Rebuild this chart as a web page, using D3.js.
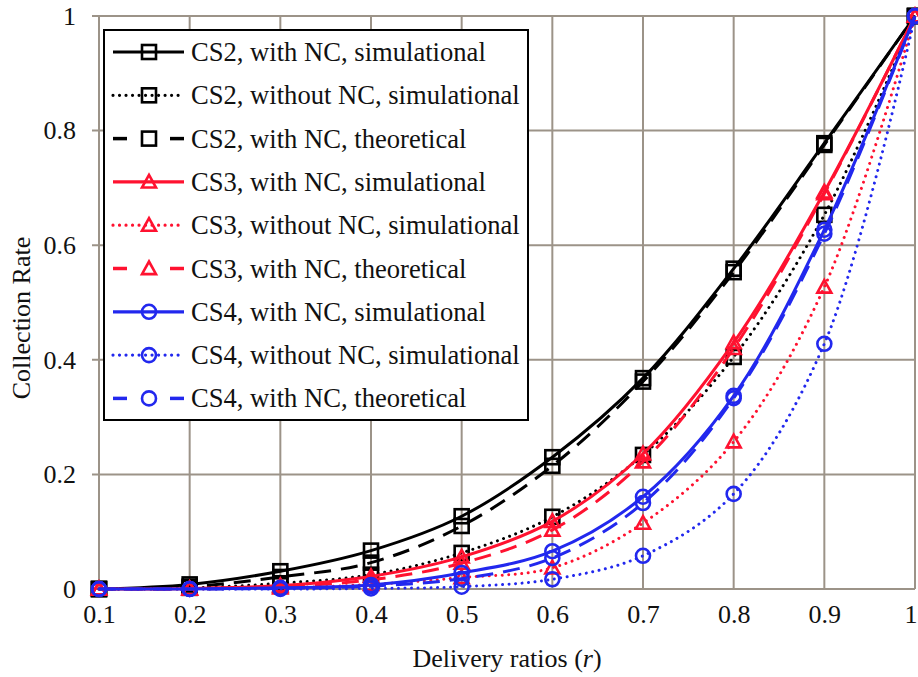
<!DOCTYPE html>
<html><head><meta charset="utf-8">
<script src="https://cdn.jsdelivr.net/npm/d3@7/dist/d3.min.js"></script>
<style>body{margin:0;background:#fff;} svg{display:block;}</style>
</head><body><svg id="c" width="918" height="677"></svg>
<script>
const xValues = [0.1,0.2,0.3,0.4,0.5,0.6,0.7,0.8,0.9,1.0];
const xTickLabels = ["0.1","0.2","0.3","0.4","0.5","0.6","0.7","0.8","0.9","1"];
const yTickValues = [0,0.2,0.4,0.6,0.8,1];
const yTickLabels = ["0","0.2","0.4","0.6","0.8","1"];
const seriesNames = ["CS2, with NC, simulational","CS2, without NC, simulational","CS2, with NC, theoretical",
  "CS3, with NC, simulational","CS3, without NC, simulational","CS3, with NC, theoretical",
  "CS4, with NC, simulational","CS4, without NC, simulational","CS4, with NC, theoretical"];
const cs2NcSim   = [0,0.008,0.031,0.067,0.127,0.230,0.368,0.559,0.778,1];
const cs2NoNcSim = [0,0.002,0.010,0.025,0.063,0.126,0.234,0.405,0.653,1];
const cs2NcTheo  = [0,0.004,0.021,0.046,0.110,0.215,0.362,0.553,0.775,1];
const cs3NcSim   = [0,0.001,0.006,0.022,0.056,0.118,0.236,0.430,0.693,1];
const cs3NoNcSim = [0,0.000,0.002,0.008,0.020,0.037,0.115,0.257,0.527,1];
const cs3NcTheo  = [0,0.000,0.004,0.016,0.045,0.103,0.222,0.420,0.690,1];
const cs4NcSim   = [0,0.000,0.002,0.007,0.028,0.066,0.161,0.337,0.627,1];
const cs4NoNcSim = [0,0.000,0.000,0.001,0.004,0.017,0.058,0.166,0.428,1];
const cs4NcTheo  = [0,0.000,0.001,0.005,0.018,0.054,0.150,0.333,0.620,1];
const seriesValues = [cs2NcSim,cs2NoNcSim,cs2NcTheo,cs3NcSim,cs3NoNcSim,cs3NcTheo,cs4NcSim,cs4NoNcSim,cs4NcTheo];

const colors = {k:"#000000", r:"#ff1230", b:"#2228ee"};
const styleOf = i => ({
  color: [colors.k,colors.r,colors.b][Math.floor(i/3)],
  marker: ["square","triangle","circle"][Math.floor(i/3)],
  dash: ["solid","dotted","dashed"][i%3]
});

const FONT = '"Liberation Serif"';
const svg = d3.select("#c");
const L=99, R=915, T=16, B=589;
const x = d3.scaleLinear().domain([0.1,1]).range([L,R]);
const y = d3.scaleLinear().domain([0,1]).range([B,T]);
const grid = "#9c9388";

// grid
const g = svg.append("g");
g.selectAll(".vg").data(xValues).join("line")
  .attr("x1",d=>x(d)).attr("x2",d=>x(d)).attr("y1",T).attr("y2",B)
  .attr("stroke",grid).attr("stroke-width",2);
g.selectAll(".hg").data(yTickValues).join("line")
  .attr("x1",L-7).attr("x2",R).attr("y1",d=>y(d)).attr("y2",d=>y(d))
  .attr("stroke",grid).attr("stroke-width",2);

// axes labels via d3 axes
const xAxis = d3.axisBottom(x).tickValues(xValues).tickFormat((d,i)=>xTickLabels[i]).tickSize(0).tickPadding(16);
const yAxis = d3.axisLeft(y).tickValues(yTickValues).tickFormat((d,i)=>yTickLabels[i]).tickSize(0).tickPadding(23);
const gx = svg.append("g").attr("transform",`translate(0,${B})`).call(xAxis);
const gy = svg.append("g").attr("transform",`translate(${L},0)`).call(yAxis);
[gx,gy].forEach(a=>{a.select(".domain").remove(); a.selectAll("text").style("font-family",FONT).style("font-size","26px").attr("fill","#111");});
// keep last x label inside the window
gx.selectAll(".tick").filter((d,i)=>i===xValues.length-1).select("text").attr("text-anchor","end").attr("dx",2);

svg.append("text").attr("x",507).attr("y",667).attr("text-anchor","middle").style("font-size","26px").style("font-family",FONT).attr("fill","#111")
  .html('Delivery ratios (<tspan font-style="italic">r</tspan>)');
svg.append("text").attr("transform","translate(30,318) rotate(-90)").attr("text-anchor","middle").style("font-size","26px").style("font-family",FONT).attr("fill","#111")
  .text("Collection Rate");

function dashArr(d){ return d==="dotted" ? "0.01 6.5" : d==="dashed" ? "17 10" : null; }

function drawMarker(sel, type, cx, cy, color){
  if(type==="square"){
    sel.append("rect").attr("x",cx-7).attr("y",cy-7).attr("width",14).attr("height",14)
      .attr("fill","none").attr("stroke",color).attr("stroke-width",2.6);
  } else if(type==="triangle"){
    const s=7;
    sel.append("path").attr("d",`M${cx},${cy-s}L${cx+s},${cy+s*0.8}L${cx-s},${cy+s*0.8}Z`)
      .attr("fill","none").attr("stroke",color).attr("stroke-width",2.6).attr("stroke-linejoin","miter");
  } else {
    sel.append("circle").attr("cx",cx).attr("cy",cy).attr("r",7)
      .attr("fill","none").attr("stroke",color).attr("stroke-width",2.6);
  }
}

const line = d3.line().x((d,i)=>x(xValues[i])).y(d=>y(d)).curve(d3.curveCatmullRom.alpha(0.5));
const plot = svg.append("g");
const order = [2,1,0,5,4,3,8,7,6];
order.forEach(i=>{
  const st = styleOf(i);
  const gs = plot.append("g");
  gs.append("path").datum(seriesValues[i]).attr("d",line)
    .attr("fill","none").attr("stroke",st.color).attr("stroke-width",3)
    .attr("stroke-linecap", st.dash==="dotted"?"round":"butt")
    .attr("stroke-dasharray",dashArr(st.dash));
  seriesValues[i].forEach((v,j)=>drawMarker(gs, st.marker, x(xValues[j]), y(v), st.color));
});

// legend
const lg = svg.append("g");
lg.append("rect").attr("x",104).attr("y",30).attr("width",424).attr("height",390)
  .attr("fill","#fff").attr("stroke","#000").attr("stroke-width",2);
seriesNames.forEach((name,i)=>{
  const st = styleOf(i);
  const cy = 52 + i*43.3;
  const gi = lg.append("g");
  if(st.dash==="dashed"){
    gi.append("line").attr("x1",113).attr("x2",127).attr("y1",cy).attr("y2",cy).attr("stroke",st.color).attr("stroke-width",3.5);
    gi.append("line").attr("x1",170).attr("x2",184).attr("y1",cy).attr("y2",cy).attr("stroke",st.color).attr("stroke-width",3.5);
  } else {
    gi.append("line").attr("x1",113).attr("x2",184).attr("y1",cy).attr("y2",cy).attr("stroke",st.color).attr("stroke-width",3.2)
      .attr("stroke-linecap", st.dash==="dotted"?"round":"butt").attr("stroke-dasharray",dashArr(st.dash));
  }
  drawMarker(gi, st.marker, 149, cy, st.color);
  gi.append("text").attr("x",191).attr("y",cy+9).style("font-size","26.6px").style("font-family",FONT).attr("fill","#111").text(name);
});
</script></body></html>
